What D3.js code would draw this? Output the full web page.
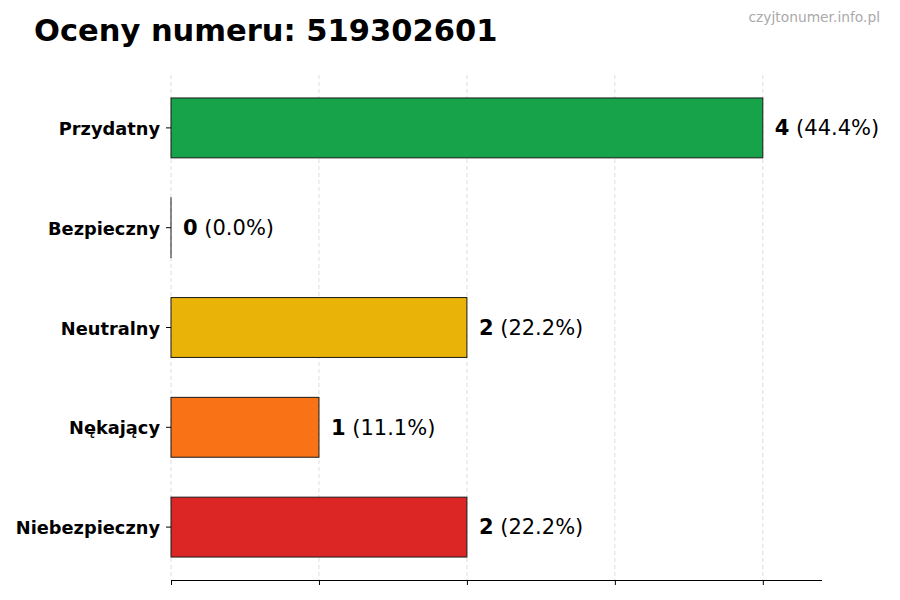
<!DOCTYPE html>
<html><head><meta charset="utf-8">
<script src="https://cdn.jsdelivr.net/npm/d3@7"></script>
<style>body{margin:0;background:#fff}svg{display:block}</style>
</head><body><svg id="c" width="900" height="600"></svg>
<script>
const categories = ["Przydatny","Bezpieczny","Neutralny","Nękający","Niebezpieczny"];
const counts = [4,0,2,1,2];
const percents = ["44.4%","0.0%","22.2%","11.1%","22.2%"];
const colors = ["#16a34a","#2563eb","#eab308","#f97316","#dc2626"];
const xTicks = [0,1,2,3,4];
const title = "Oceny numeru: 519302601";
const watermark = "czyjtonumer.info.pl";

(function(){
const svg = d3.select("#c");
const font = "'DejaVu Sans', sans-serif";
const pL = 171, pR = 822, pT = 75, pB = 580;
const x = d3.scaleLinear().domain([0,4.4]).range([pL,pR]);
const y = d3.scaleBand().domain(categories).range([pT+3,pB-3]).paddingInner(0.4).paddingOuter(0.2);

svg.append("text").attr("x",34).attr("y",41).attr("font-family",font).attr("font-weight","bold")
  .attr("font-size",30.5).attr("fill","#000").text(title);
svg.append("text").attr("x",880).attr("y",22).attr("text-anchor","end").attr("font-family",font)
  .attr("font-size",13.8).attr("fill","#aaa").text(watermark);

svg.append("g").selectAll("line").data(xTicks).join("line")
  .attr("x1",d=>x(d)).attr("x2",d=>x(d)).attr("y1",pT).attr("y2",pB)
  .attr("stroke","#d4d4d4").attr("stroke-width",0.8).attr("stroke-dasharray","4,3");

svg.append("g").selectAll("rect").data(categories).join("rect")
  .attr("x",x(0)).attr("y",d=>y(d)).attr("height",y.bandwidth())
  .attr("width",(d,i)=>Math.max(x(counts[i])-x(0),0.01))
  .attr("fill",(d,i)=>colors[i]).attr("stroke","#1a1a1a").attr("stroke-width",1);

const lab = svg.append("g").selectAll("text").data(categories).join("text")
  .attr("x",(d,i)=>x(counts[i])+12).attr("y",d=>y(d)+y.bandwidth()/2)
  .attr("dy","0.35em").attr("font-family",font).attr("font-size",21).attr("fill","#000");
lab.append("tspan").attr("font-weight","bold").text((d,i)=>counts[i]);
lab.append("tspan").text((d,i)=>" ("+percents[i]+")");

const xa = svg.append("g").attr("transform",`translate(0,${pB})`)
  .call(d3.axisBottom(x).tickValues(xTicks).tickSize(5).tickFormat(""));
xa.select(".domain").attr("d",`M${pL},0.5H${pR}`).attr("stroke","#000").attr("stroke-width",1.2);
xa.selectAll(".tick line").attr("stroke","#000").attr("stroke-width",1);

const ya = svg.append("g").attr("transform",`translate(${pL},0)`)
  .call(d3.axisLeft(y).tickSize(5).tickPadding(6));
ya.select(".domain").remove();
ya.selectAll(".tick line").attr("stroke","#000");
ya.selectAll(".tick text").attr("font-family",font).attr("font-weight","bold").attr("font-size",17.8).attr("fill","#000").attr("dy","0.4em");
})();
</script></body></html>
